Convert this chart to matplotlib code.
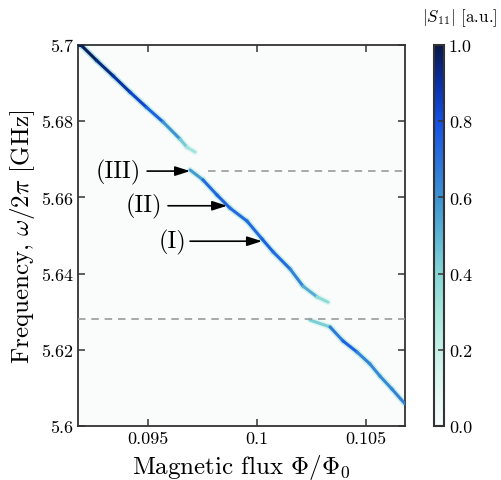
import matplotlib
matplotlib.use('Agg')
import matplotlib.pyplot as plt
import numpy as np
from matplotlib.collections import LineCollection
from matplotlib.colors import LinearSegmentedColormap, Normalize
from matplotlib.cm import ScalarMappable
from matplotlib.ticker import FuncFormatter

# computer-modern look like the paper figure
plt.rcParams['font.family'] = 'serif'
plt.rcParams['font.serif'] = ['cmr10']
plt.rcParams['mathtext.fontset'] = 'cm'
plt.rcParams['axes.formatter.use_mathtext'] = True

# ridge of |S11|: flux, frequency (GHz), amplitude
upper_flux = [0.0918, 0.09197, 0.09266, 0.09341, 0.09419, 0.09495, 0.09570, 0.09648, 0.09679, 0.09717]
upper_freq = [5.7000, 5.6998, 5.6959, 5.6919, 5.6876, 5.6836, 5.6798, 5.6753, 5.6732, 5.6719]
upper_amp = [1.0, 1.0, 0.95, 0.92, 0.88, 0.8, 0.7, 0.5, 0.38, 0.25]

mid_flux = [0.09694, 0.09753, 0.09818, 0.09877, 0.09955, 0.10024, 0.10075, 0.10153, 0.10212, 0.10276, 0.10327]
mid_freq = [5.6672, 5.6646, 5.6606, 5.6572, 5.6538, 5.6491, 5.6457, 5.6412, 5.6367, 5.6339, 5.6325]
mid_amp = [0.45, 0.7, 0.75, 0.75, 0.7, 0.75, 0.75, 0.7, 0.6, 0.45, 0.3]

low_flux = [0.10244, 0.10336, 0.10396, 0.10460, 0.10519, 0.10565, 0.10620, 0.1068]
low_freq = [5.6278, 5.6260, 5.6223, 5.6194, 5.6163, 5.6131, 5.6097, 5.6058]
low_amp = [0.3, 0.55, 0.8, 0.7, 0.6, 0.65, 0.6, 0.7]

# avoided crossings (dashed guides)
cross_freq = [5.6669, 5.6281]
cross_start = [0.09776, 0.0918]

labels = ['(III)', '(II)', '(I)']
label_flux = [0.09694, 0.09864, 0.10024]
label_freq = [5.6669, 5.6578, 5.6485]
tail_flux = [0.09497, 0.09593, 0.09694]
text_flux = [0.09470, 0.09568, 0.09677]

cmap = LinearSegmentedColormap.from_list('s11', [
    (0.0, '#f7fcfc'), (0.1, '#e2f7f2'), (0.2, '#c6f0e6'), (0.3, '#a6e6dc'),
    (0.4, '#86d6d6'), (0.5, '#5cb4d4'), (0.6, '#3c92d2'), (0.7, '#2a72dc'),
    (0.8, '#1450e6'), (0.9, '#0a30a8'), (1.0, '#0a1848')])
norm = Normalize(0, 1)

fig = plt.figure(figsize=(5.01, 4.81), dpi=100)
ax = fig.add_axes([0.1557, 0.1123, 0.6527, 0.7921])
cax = fig.add_axes([0.8663, 0.1123, 0.02, 0.7921])
ax.set_facecolor('#fafcfc')


def draw_branch(x, y, a):
    pts = np.column_stack([x, y]).reshape(-1, 1, 2)
    segs = np.concatenate([pts[:-1], pts[1:]], axis=1)
    amp = (np.array(a[:-1]) + np.array(a[1:])) / 2
    # soft halo then the core
    halo = LineCollection(segs, colors=cmap(norm(amp * 0.4)), linewidths=4.5,
                          capstyle='round', alpha=0.6, zorder=2)
    core = LineCollection(segs, colors=cmap(norm(amp)), linewidths=2.2,
                          capstyle='round', zorder=3)
    ax.add_collection(halo)
    ax.add_collection(core)


draw_branch(upper_flux, upper_freq, upper_amp)
draw_branch(mid_flux, mid_freq, mid_amp)
draw_branch(low_flux, low_freq, low_amp)

for f, x0 in zip(cross_freq, cross_start):
    ax.plot([x0, 0.1068], [f, f], color='#9a9a9a', lw=1.2, dashes=(4.5, 3.5), zorder=4)

for lab, xf, yf, xs, xt in zip(labels, label_flux, label_freq, tail_flux, text_flux):
    ax.text(xt, yf, lab, ha='right', va='center', fontsize=17.5)
    ax.annotate('', xy=(xf, yf), xytext=(xs, yf),
                arrowprops=dict(arrowstyle='-|>,head_length=0.5,head_width=0.16',
                                color='black', lw=1.2,
                                mutation_scale=18, shrinkA=0, shrinkB=0))

ax.set_xlim(0.0918, 0.1068)
ax.set_ylim(5.6, 5.7)
ax.set_xticks([0.095, 0.1, 0.105])
ax.set_yticks([5.6, 5.62, 5.64, 5.66, 5.68, 5.7])
fmt = FuncFormatter(lambda v, p: '%g' % v)
ax.xaxis.set_major_formatter(fmt)
ax.yaxis.set_major_formatter(fmt)
ax.tick_params(direction='in', top=True, right=True, length=5, width=1.1,
               labelsize=13, color='#333333')
for s in ax.spines.values():
    s.set_linewidth(1.3)
    s.set_color('#333333')

ax.set_xlabel(r'Magnetic flux $\Phi/\Phi_0$', fontsize=18, labelpad=4)
ax.set_ylabel(r'Frequency, $\omega/2\pi$ [GHz]', fontsize=18, labelpad=3)

sm = ScalarMappable(norm=norm, cmap=cmap)
cb = fig.colorbar(sm, cax=cax)
cb.set_ticks([0, 0.2, 0.4, 0.6, 0.8, 1.0])
cb.ax.yaxis.set_major_formatter(FuncFormatter(lambda v, p: '%.1f' % v))
cb.ax.tick_params(direction='in', length=4, width=1.1, labelsize=13, color='#333333')
cb.outline.set_linewidth(1.5)
cb.outline.set_edgecolor('#333333')
fig.text(0.917, 0.962, r'$|S_{11}|$ [a.u.]', ha='center', va='center', fontsize=12.3)

fig.savefig('out.png', dpi=100)
